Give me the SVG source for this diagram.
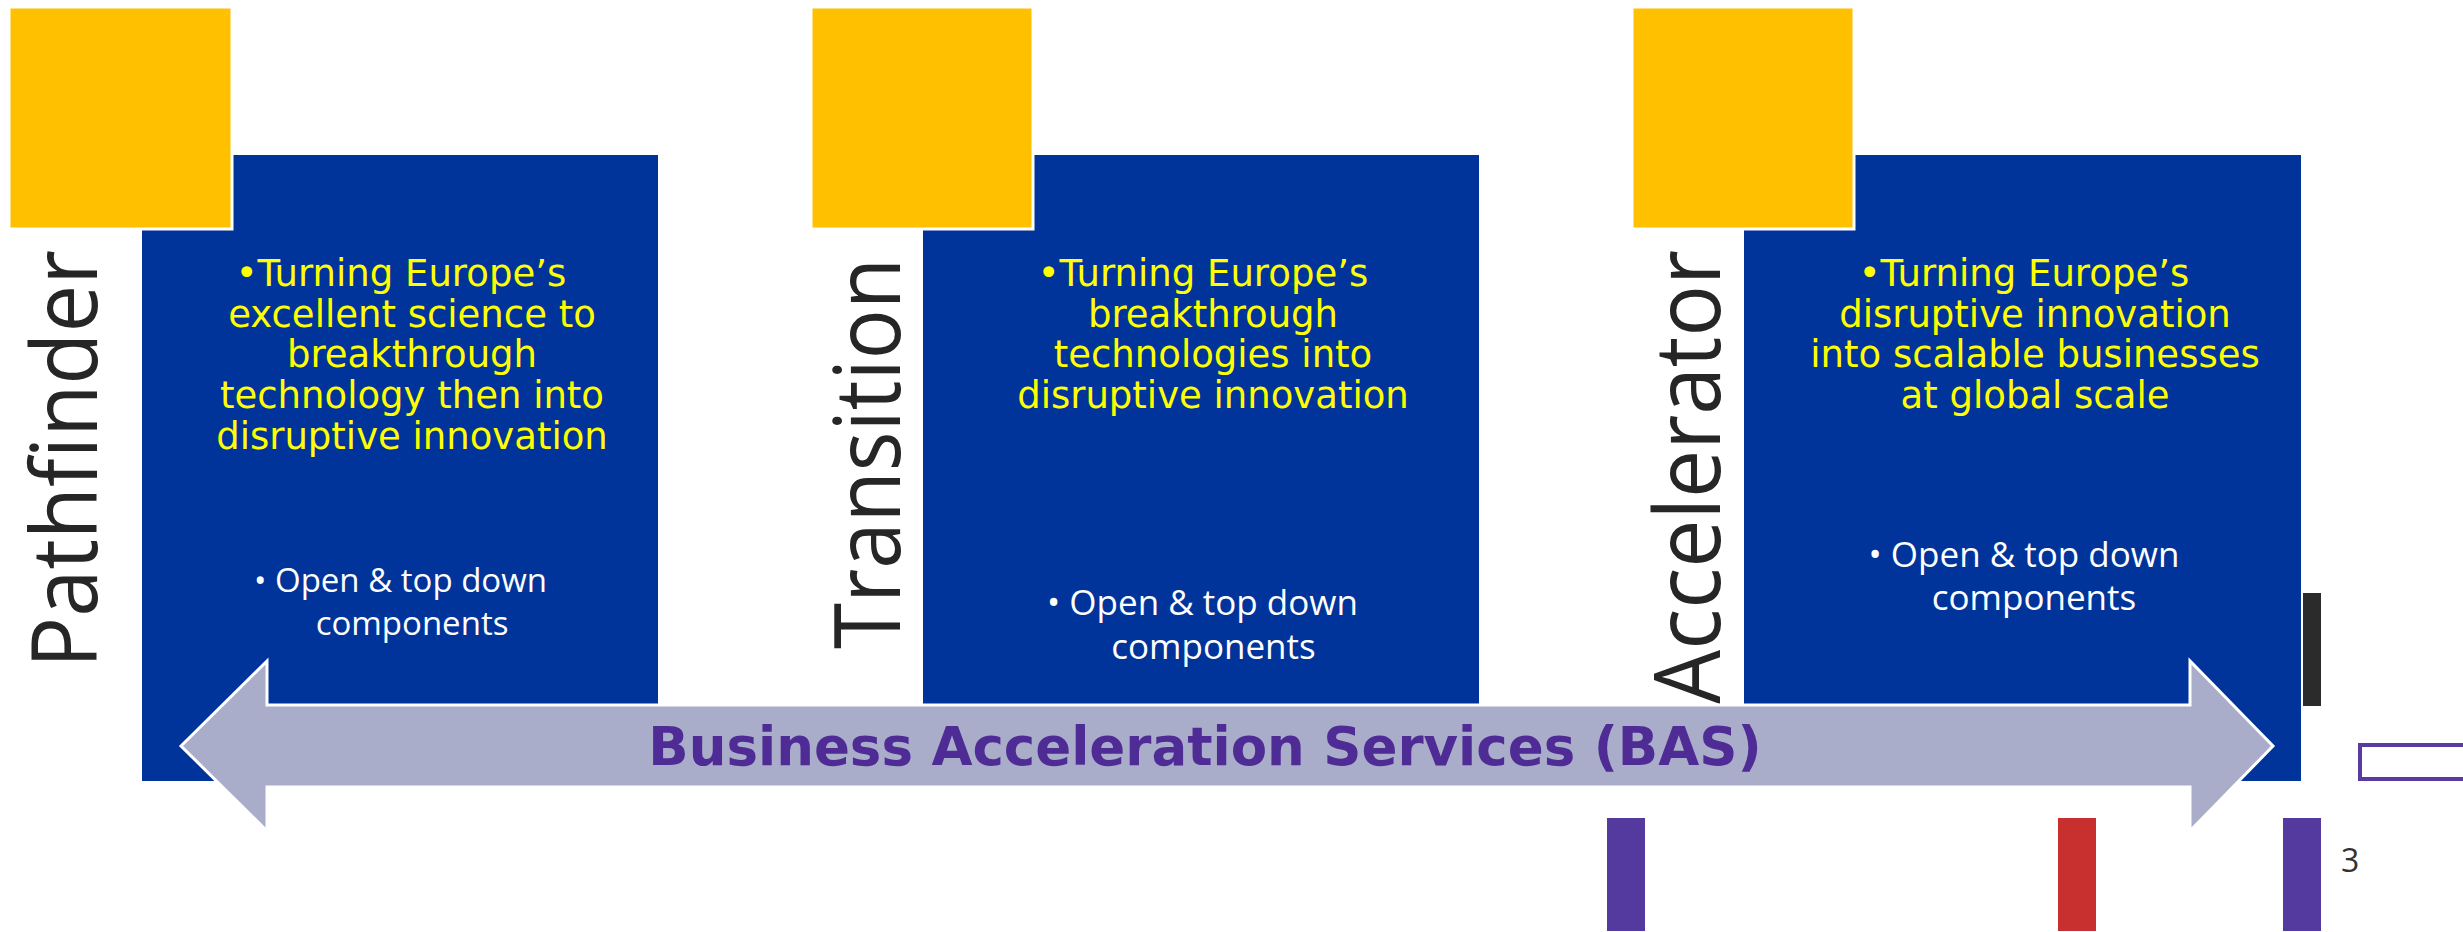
<svg xmlns="http://www.w3.org/2000/svg" width="2463" height="932" viewBox="0 0 2463 932">
<style>
.blue{fill:#00349A;}
.sq{fill:#FFC000;stroke:#FFFFFF;stroke-width:3;}
.lbl{font-family:"Open Sans","Noto Sans",sans-serif;font-weight:400;font-size:92px;fill:#262626;text-anchor:middle;}
.yt{font-family:"DejaVu Sans","Verdana",sans-serif;font-size:37px;fill:#FFFF00;text-anchor:middle;}
.wt{font-family:"Open Sans","Noto Sans",sans-serif;font-size:35px;fill:#FFFFFF;text-anchor:middle;}
.bas{font-family:"DejaVu Sans","Verdana",sans-serif;font-weight:bold;font-size:53px;fill:#4F2B96;text-anchor:middle;}
</style>
<rect width="2463" height="932" fill="#FFFFFF"/>

<g id="pathfinder">
  <rect class="blue" x="142" y="155" width="516" height="626"/>
  <rect class="sq" x="9" y="7" width="223" height="222"/>
  <text class="lbl" transform="translate(97,459) rotate(-90)" textLength="418" lengthAdjust="spacingAndGlyphs">Pathfinder</text>
  <text class="yt" x="401" y="286">•Turning Europe’s</text>
  <text class="yt" x="412" y="326.5">excellent science to</text>
  <text class="yt" x="412" y="367">breakthrough</text>
  <text class="yt" x="412" y="408">technology then into</text>
  <text class="yt" x="412" y="449">disruptive innovation</text>
  <text class="wt" x="400.5" y="592" style="font-size:33px">• Open &amp; top down</text>
  <text class="wt" x="412" y="635" style="font-size:33px">components</text>
</g>

<g id="transition">
  <rect class="blue" x="923" y="155" width="556" height="549"/>
  <rect class="sq" x="811" y="7" width="222" height="222"/>
  <text class="lbl" transform="translate(900,453.5) rotate(-90)" textLength="391" lengthAdjust="spacingAndGlyphs">Transition</text>
  <text class="yt" x="1203" y="286">•Turning Europe’s</text>
  <text class="yt" x="1213" y="326.5">breakthrough</text>
  <text class="yt" x="1213" y="367">technologies into</text>
  <text class="yt" x="1213" y="408">disruptive innovation</text>
  <text class="wt" x="1202.5" y="615">• Open &amp; top down</text>
  <text class="wt" x="1213.5" y="659">components</text>
</g>

<g id="accelerator">
  <rect class="blue" x="1744" y="155" width="557" height="626"/>
  <rect class="sq" x="1632" y="7" width="222" height="222"/>
  <text class="lbl" transform="translate(1720,477) rotate(-90)" textLength="454" lengthAdjust="spacingAndGlyphs">Accelerator</text>
  <text class="yt" x="2024" y="286">•Turning Europe’s</text>
  <text class="yt" x="2035" y="326.5">disruptive innovation</text>
  <text class="yt" x="2035" y="367">into scalable businesses</text>
  <text class="yt" x="2035" y="408">at global scale</text>
  <text class="wt" x="2024" y="567">• Open &amp; top down</text>
  <text class="wt" x="2034" y="610">components</text>
</g>

<g id="connectors">
  <path d="M181,746 L267,661 L267,705 L2190,705 L2190,661 L2273,746 L2190,831 L2190,787 L267,787 L267,831 Z" fill="#AAADCA" stroke="#FFFFFF" stroke-width="3" stroke-linejoin="miter"/>
</g>

<g id="bas-label">
  <text class="bas" x="1205" y="765">Business Acceleration Services (BAS)</text>
</g>

<g id="decor">
  <rect x="2303" y="593" width="18" height="113" fill="#2B2B2B"/>
  <rect x="2360" y="745" width="110" height="34" fill="#FFFFFF" stroke="#5A3CA0" stroke-width="4"/>
  <rect x="1607" y="818" width="38" height="113" fill="#54399E"/>
  <rect x="2058" y="818" width="38" height="113" fill="#C8302F"/>
  <rect x="2283" y="818" width="38" height="113" fill="#54399E"/>
  <text x="2341" y="872" style="font-family:'Open Sans','Noto Sans',sans-serif;font-size:32px;fill:#333333">3</text>
</g>
</svg>
